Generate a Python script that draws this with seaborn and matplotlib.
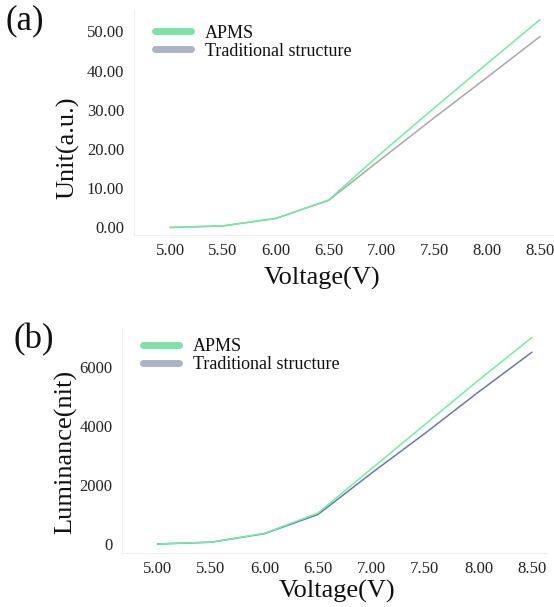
import numpy as np
import pandas as pd
import matplotlib
matplotlib.use("Agg")
import matplotlib.pyplot as plt
import seaborn as sns

# valores
voltage = [5.0, 5.5, 6.0, 6.5, 7.0, 7.5, 8.0, 8.5]
unit_apms = [0.0, 0.4, 2.3, 7.0, 19.0, 30.5, 41.8, 53.0]
unit_trad = [0.0, 0.4, 2.3, 6.9, 17.5, 28.0, 38.3, 48.7]
lum_apms = [0, 60, 360, 1050, 2550, 4050, 5550, 7000]
lum_trad = [0, 60, 350, 1000, 2400, 3750, 5150, 6500]
series = ["APMS", "Traditional structure"]
x_ticks = [5.0, 5.5, 6.0, 6.5, 7.0, 7.5, 8.0, 8.5]

sns.set_style("white")
plt.rcParams["font.family"] = ["Liberation Serif", "DejaVu Serif"]

def make_frame(apms, trad):
    return pd.DataFrame({
        "Voltage": voltage * 2,
        "value": apms + trad,
        "structure": [series[0]] * len(voltage) + [series[1]] * len(voltage),
    })

def style_panel(ax, ylabel, xlim, ylim, yticks, yfmt, xlab_xy, ylab_xy, leg_anchor):
    ax.set_xlim(*xlim)
    ax.set_ylim(*ylim)
    ax.set_xticks(x_ticks)
    ax.set_xticklabels([f"{v:.2f}" for v in x_ticks])
    ax.set_yticks(yticks)
    ax.set_yticklabels([yfmt(v) for v in yticks])
    ax.tick_params(axis="both", labelsize=12, labelcolor="#222222")
    ax.tick_params(axis="x", color="#eeeeee", length=2, width=0.6, pad=3.5)
    ax.tick_params(axis="y", length=0, pad=7)
    for s in ["top", "right"]:
        ax.spines[s].set_visible(False)
    for s in ["left", "bottom"]:
        ax.spines[s].set_color("#efefef")
        ax.spines[s].set_linewidth(0.8)
    ax.set_xlabel("Voltage(V)", fontsize=19, color="#111111")
    ax.set_ylabel(ylabel, fontsize=19, color="#111111")
    ax.xaxis.set_label_coords(*xlab_xy)
    ax.yaxis.set_label_coords(*ylab_xy)

    # legenda: APMS primeiro, alças grossas e claras
    hs, ls = ax.get_legend_handles_labels()
    order = [ls.index(s) for s in series]
    leg = ax.legend([hs[i] for i in order], [ls[i] for i in order],
                    loc="upper left", bbox_to_anchor=leg_anchor, frameon=False,
                    fontsize=13, handlelength=2.0, handletextpad=0.75,
                    labelspacing=0.05, borderaxespad=0.3)
    for hl, c in zip(leg.get_lines(), handle_colors):
        hl.set_linewidth(5)
        hl.set_color(c)
    for t in leg.get_texts():
        t.set_color("#111111")

handle_colors = ["#7ce3a6", "#abb3c8"]

fig = plt.figure(figsize=(5.54, 6.07), dpi=100)
ax_a = fig.add_axes([0.242, 0.613, 0.758, 0.3707])
ax_b = fig.add_axes([0.2202, 0.089, 0.767, 0.3707])

sns.lineplot(data=make_frame(unit_apms, unit_trad), x="Voltage", y="value",
             hue="structure", palette={"APMS": "#6cf0a0",
                                       "Traditional structure": "#a8a8a8"},
             hue_order=series[::-1], linewidth=1.1, ax=ax_a)
style_panel(ax_a, "Unit(a.u.)", (4.659, 8.633), (-1.9, 55.5),
            [0, 10, 20, 30, 40, 50], lambda v: f"{v:.2f}",
            (0.448, -0.142), (-0.129, 0.387), (0.02, 0.99))

sns.lineplot(data=make_frame(lum_apms, lum_trad), x="Voltage", y="value",
             hue="structure", palette={"APMS": "#6ff0a3",
                                       "Traditional structure": "#6a78a8"},
             hue_order=series[::-1], linewidth=1.1, ax=ax_b)
style_panel(ax_b, "Luminance(nit)", (4.668, 8.64), (-305, 7322),
            [0, 2000, 4000, 6000], lambda v: f"{v:.0f}",
            (0.506, -0.12), (-0.106, 0.449), (0.02, 1.01))

fig.text(0.01, 0.993, "(a)", fontsize=25, va="top", ha="left", color="#111111")
fig.text(0.025, 0.468, "(b)", fontsize=25, va="top", ha="left", color="#111111")

fig.savefig("out.png", dpi=100)
